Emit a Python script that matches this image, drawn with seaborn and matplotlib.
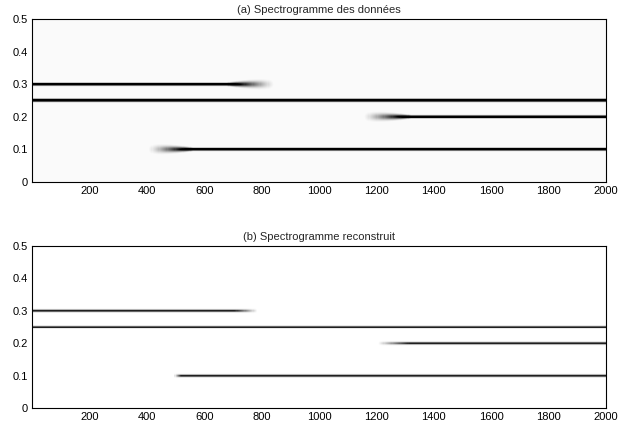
import numpy as np
import matplotlib
matplotlib.use("Agg")
import matplotlib.pyplot as plt
import seaborn as sns

# ---- data ----
# panel (a): spectrogram of the data
freq_a = [0.30, 0.25, 0.20, 0.10]
start_a = [0, 0, 1150, 400]
end_a = [850, 2000, 2000, 2000]
ramp_in_a = [0, 0, 170, 160]
ramp_out_a = [170, 0, 0, 0]
peak_a = [1.5, 1.6, 1.5, 1.5]
width_a = [0.0027, 0.0029, 0.0027, 0.0027]

# panel (b): reconstructed spectrogram
freq_b = [0.30, 0.25, 0.20, 0.10]
start_b = [0, 0, 1205, 495]
end_b = [785, 2000, 2000, 2000]
ramp_in_b = [0, 0, 110, 25]
ramp_out_b = [80, 0, 0, 0]
peak_b = [0.92, 0.92, 0.92, 0.92]
width_b = [0.0025, 0.0025, 0.0025, 0.0025]

titles = ["(a) Spectrogramme des donn\u00e9es", "(b) Spectrogramme reconstruit"]
xticks = [200, 400, 600, 800, 1000, 1200, 1400, 1600, 1800, 2000]
yticks = [0, 0.1, 0.2, 0.3, 0.4, 0.5]
T_MAX, F_MAX = 2000, 0.5
NCOL, NROW = 500, 330


def render(freqs, starts, ends, rin, rout, peaks, widths, blur, bg, shape):
    t = (np.arange(NCOL) + 0.5) / NCOL * T_MAX
    f = (np.arange(NROW) + 0.5) / NROW * F_MAX
    img = np.full((NROW, NCOL), bg)
    for f0, s, e, ri, ro, p, w in zip(freqs, starts, ends, rin, rout, peaks, widths):
        env_in = np.clip((t - s) / ri, 0, 1) if ri > 0 else (t >= s).astype(float)
        env_out = np.clip((e - t) / ro, 0, 1) if ro > 0 else (t <= e).astype(float)
        env = env_in * env_out
        env = env ** shape
        sig = w * (1 + blur * (1 - env))
        prof = (p * env)[None, :] * np.exp(-0.5 * ((f[:, None] - f0) / sig[None, :]) ** 2)
        img = np.maximum(img, prof)
    return img


sns.set_theme(style="white")
plt.rcParams["font.family"] = ["Liberation Sans", "DejaVu Sans"]

fig = plt.figure(figsize=(6.42, 4.30), dpi=100)
positions = [[0.050, 0.577, 0.894, 0.379], [0.050, 0.051, 0.894, 0.377]]
imgs = [
    render(freq_a, start_a, end_a, ramp_in_a, ramp_out_a, peak_a, width_a, 2.2, 0.02, 1.3),
    render(freq_b, start_b, end_b, ramp_in_b, ramp_out_b, peak_b, width_b, 0.3, 0.0, 1.0),
]

for pos, img, title in zip(positions, imgs, titles):
    ax = fig.add_axes(pos)
    sns.heatmap(img, ax=ax, cmap="gray_r", vmin=0, vmax=1, cbar=False,
                xticklabels=False, yticklabels=False, rasterized=True)
    ax.set_xlim(0, NCOL)
    ax.set_ylim(0, NROW)
    ax.set_xticks([v / T_MAX * NCOL for v in xticks])
    ax.set_xticklabels([str(v) for v in xticks], rotation=0)
    ax.set_yticks([v / F_MAX * NROW for v in yticks])
    ax.set_yticklabels(["0" if v == 0 else f"{v:.1f}" for v in yticks], rotation=0)
    for sp in ax.spines.values():
        sp.set_visible(True)
        sp.set_color("black")
        sp.set_linewidth(0.8)
    ax.tick_params(direction="in", top=True, right=True, length=4, width=0.7,
                   labelsize=8, colors="black", pad=3)
    ax.set_title(title, fontsize=8, pad=4)

fig.savefig("out.png", dpi=100)
